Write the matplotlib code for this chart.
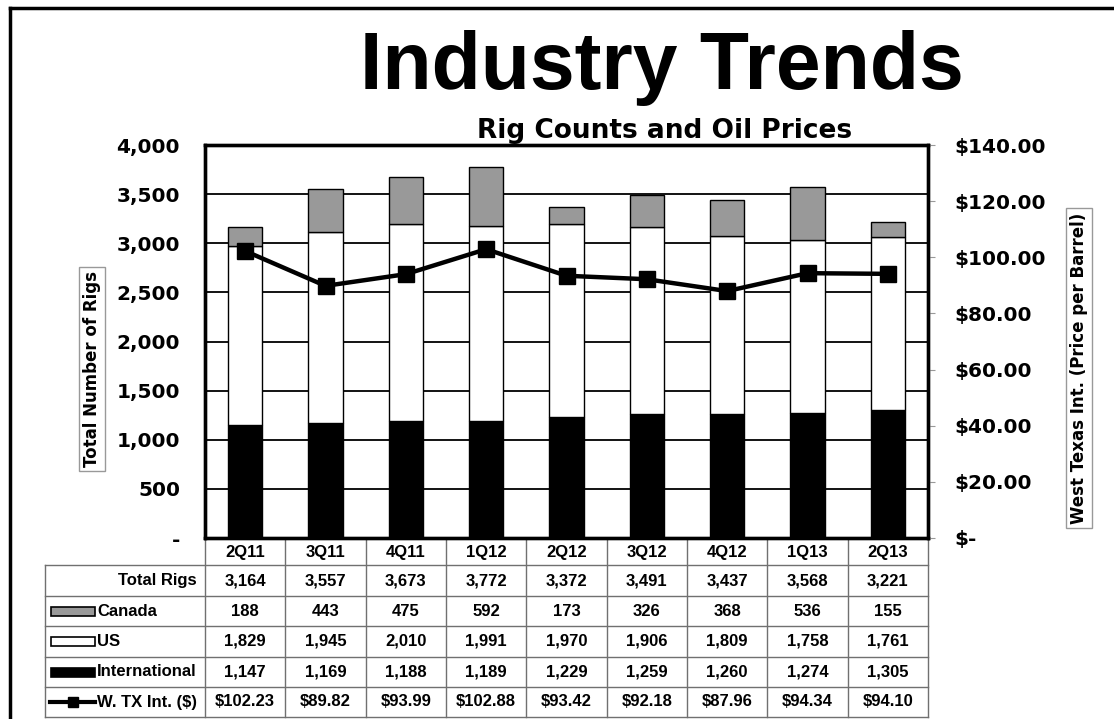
import numpy as np
import matplotlib
matplotlib.use("Agg")
import matplotlib.pyplot as plt
from matplotlib.lines import Line2D
from matplotlib.patches import Rectangle
from matplotlib.transforms import blended_transform_factory
from matplotlib.ticker import FuncFormatter

# quarters and rig counts
quarters = ["2Q11", "3Q11", "4Q11", "1Q12", "2Q12", "3Q12", "4Q12", "1Q13", "2Q13"]
total_rigs = [3164, 3557, 3673, 3772, 3372, 3491, 3437, 3568, 3221]
canada = [188, 443, 475, 592, 173, 326, 368, 536, 155]
us = [1829, 1945, 2010, 1991, 1970, 1906, 1809, 1758, 1761]
international = [1147, 1169, 1188, 1189, 1229, 1259, 1260, 1274, 1305]
wti = [102.23, 89.82, 93.99, 102.88, 93.42, 92.18, 87.96, 94.34, 94.10]

narrow = ["Liberation Sans Narrow", "Liberation Sans", "DejaVu Sans"]
verd = ["DejaVu Sans"]

W, H = 1114, 719
fig = plt.figure(figsize=(W / 100, H / 100), dpi=100)

# plot area in pixels
L, R, T, B = 205, 928, 145, 538
ax = fig.add_axes([L / W, 1 - B / H, (R - L) / W, (B - T) / H])
ax2 = ax.twinx()

x = np.arange(len(quarters))
bw = 0.43
ax.bar(x, international, bw, color="black", edgecolor="black", linewidth=1, zorder=3)
ax.bar(x, us, bw, bottom=international, color="white", edgecolor="black", linewidth=1, zorder=3)
bot2 = np.array(international) + np.array(us)
ax.bar(x, canada, bw, bottom=bot2, color="#999999", edgecolor="black", linewidth=1, zorder=3)

ax.set_xlim(-0.5, len(quarters) - 0.5)
ax.set_ylim(0, 4000)
ax.set_yticks(np.arange(0, 4001, 500))
ax.yaxis.set_major_formatter(FuncFormatter(lambda v, p: "-" if v == 0 else f"{int(v):,}"))
ax.grid(axis="y", color="black", linewidth=1.3, zorder=1)
ax.set_axisbelow(True)
ax.set_xticks([])
ax.tick_params(axis="y", length=0, pad=18)
for lab in ax.get_yticklabels():
    lab.set_fontfamily(verd)
    lab.set_fontweight("bold")
    lab.set_fontsize(14.5)

ax2.plot(x, wti, color="black", linewidth=3.2, marker="s", markersize=12, zorder=5)
ax2.set_ylim(0, 140)
ax2.set_yticks(np.arange(0, 141, 20))
ax2.yaxis.set_major_formatter(FuncFormatter(lambda v, p: "$-" if v == 0 else f"${v:.2f}"))
ax2.tick_params(axis="y", length=5, color="#999999", pad=14)
for lab in ax2.get_yticklabels():
    lab.set_fontfamily(verd)
    lab.set_fontweight("bold")
    lab.set_fontsize(14.5)

for a in (ax, ax2):
    for s in a.spines.values():
        s.set_linewidth(2.4)
        s.set_color("black")
ax2.patch.set_visible(False)

# axis titles in boxes
box = dict(boxstyle="square,pad=0.25", facecolor="white", edgecolor="#999999", linewidth=1)
fig.text(92 / W, 1 - 369 / H, "Total Number of Rigs", rotation=90, ha="center", va="center",
         fontsize=12, fontweight="bold", family=verd, bbox=box)
fig.text(1079 / W, 1 - 368 / H, "West Texas Int. (Price per Barrel)", rotation=90, ha="center",
         va="center", fontsize=12, fontweight="bold", family=verd, bbox=box)

# titles
fig.text(662 / W, 1 - 68 / H, "Industry Trends", ha="center", va="center", fontsize=58,
         fontweight="bold", family=narrow)
fig.text(665 / W, 1 - 131 / H, "Rig Counts and Oil Prices", ha="center", va="center",
         fontsize=19, fontweight="bold", family=verd)

# data table under the chart
tr = blended_transform_factory(ax.transData, ax.transAxes)
def ya(ypix):
    return (B - ypix) / (B - T)
def xa(xpix):
    return (xpix - L) / (R - L)

grid_c = "#707070"
row_lines = [565, 596, 626, 657, 687, 717]
for yp in row_lines:
    ax.add_line(Line2D([xa(45), 1], [ya(yp)] * 2, transform=ax.transAxes, color=grid_c,
                       linewidth=1, clip_on=False))
for i in range(len(quarters) + 1):
    ax.add_line(Line2D([i - 0.5] * 2, [0, ya(717)], transform=tr, color=grid_c,
                       linewidth=1, clip_on=False))
ax.add_line(Line2D([xa(45)] * 2, [ya(565), ya(717)], transform=ax.transAxes, color=grid_c,
                   linewidth=1, clip_on=False))

tfs = 12
for i, q in enumerate(quarters):
    ax.text(i, ya(552), q, transform=tr, ha="center", va="center", fontsize=tfs,
            fontweight="bold", family=narrow)

rows = [
    [f"{v:,}" for v in total_rigs],
    [f"{v:,}" for v in canada],
    [f"{v:,}" for v in us],
    [f"{v:,}" for v in international],
    [f"${v:.2f}" for v in wti],
]
labels = ["Total Rigs", "Canada", "US", "International", "W. TX Int. ($)"]
centers = [(row_lines[k] + row_lines[k + 1]) / 2 for k in range(5)]
for k, (lab, vals) in enumerate(zip(labels, rows)):
    yc = ya(centers[k])
    for i, v in enumerate(vals):
        ax.text(i, yc, v, transform=tr, ha="center", va="center", fontsize=tfs,
                fontweight="bold", family=narrow)
    if k == 0:
        ax.text(xa(197), yc, lab, transform=ax.transAxes, ha="right", va="center",
                fontsize=tfs, fontweight="bold", family=narrow)
    else:
        ax.text(xa(97), yc, lab, transform=ax.transAxes, ha="left", va="center",
                fontsize=tfs, fontweight="bold", family=narrow)

# legend keys in table
key_cols = {1: "#999999", 2: "white", 3: "black"}
kh = 9 / (B - T)
for k, col in key_cols.items():
    yc = ya(centers[k])
    ax.add_patch(Rectangle((xa(51), yc - kh / 2), xa(95) - xa(51), kh, transform=ax.transAxes,
                           facecolor=col, edgecolor="black", linewidth=1.2, clip_on=False))
yc = ya(centers[4])
ax.add_line(Line2D([xa(50), xa(95)], [yc, yc], transform=ax.transAxes, color="black",
                   linewidth=3, clip_on=False))
ax.add_line(Line2D([xa(72.5)], [yc], transform=ax.transAxes, color="black", marker="s",
                   markersize=7, clip_on=False))

# slide frame
fig.add_artist(Line2D([10 / W, 10 / W], [0, 1 - 8 / H], transform=fig.transFigure,
                      color="black", linewidth=2.5))
fig.add_artist(Line2D([10 / W, 1], [1 - 8 / H, 1 - 8 / H], transform=fig.transFigure,
                      color="black", linewidth=2.5))

fig.savefig("out.png", dpi=100)
